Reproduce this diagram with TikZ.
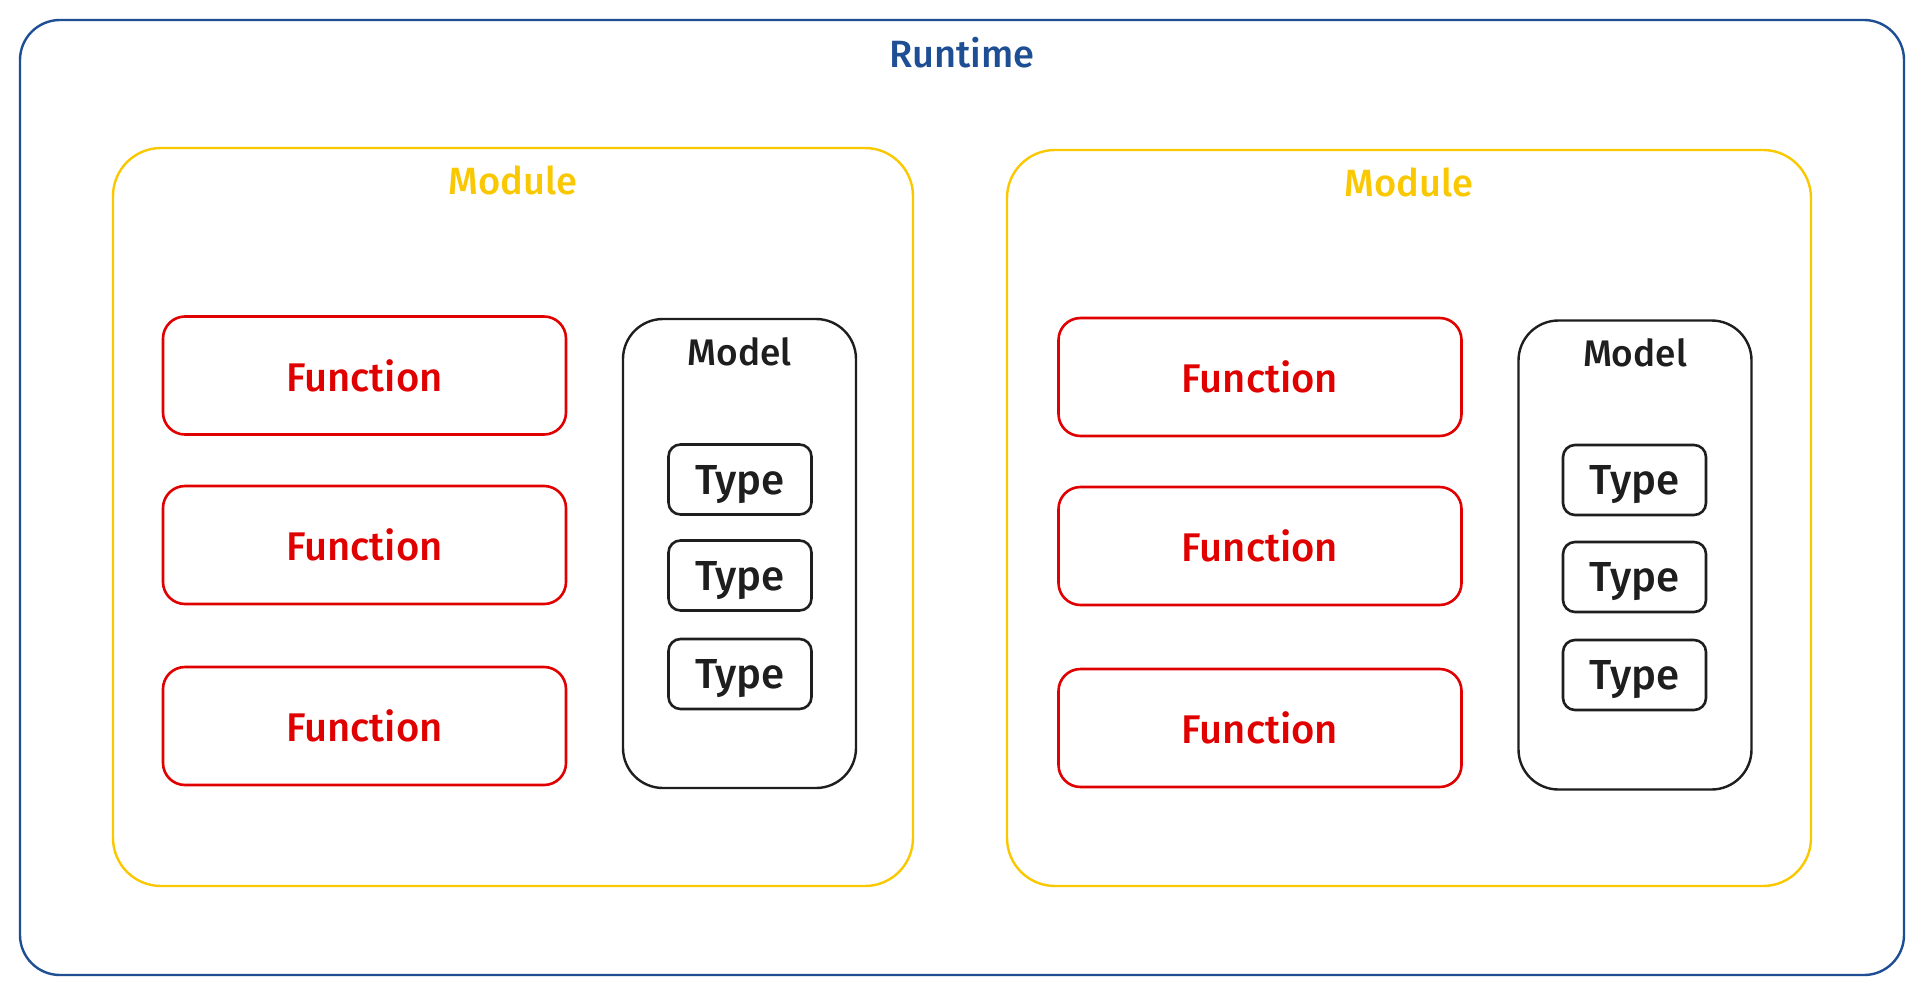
\documentclass[tikz,border=0pt]{standalone}
\usepackage{fontspec}
\setmainfont{Fira Sans}[BoldFont={Fira Sans Medium}]
\usetikzlibrary{positioning}

\definecolor{rtblue}{RGB}{30,78,148}
\definecolor{modyellow}{RGB}{250,200,0}
\definecolor{fnred}{RGB}{224,0,0}
\definecolor{inkblack}{RGB}{30,30,30}

\tikzset{
  rtbox/.style={draw=rtblue, line width=2.4pt, rounded corners=40pt, inner sep=0pt},
  modbox/.style={draw=modyellow, line width=2.4pt, rounded corners=48pt, inner sep=0pt},
  fnbox/.style={draw=fnred, line width=2.6pt, rounded corners=22pt, inner sep=0pt,
    minimum width=403pt, minimum height=118pt, text=fnred, font=\fontsize{40}{46}\selectfont\bfseries},
  mdlbox/.style={draw=inkblack, line width=2.4pt, rounded corners=40pt, inner sep=0pt,
    minimum width=233pt, minimum height=469pt},
  typebox/.style={draw=inkblack, line width=2.6pt, rounded corners=12pt, inner sep=0pt,
    minimum width=143pt, minimum height=70pt, text depth=0pt, text=inkblack,
    font=\fontsize{42}{48}\selectfont\bfseries},
  title/.style={font=\fontsize{38}{44}\selectfont\bfseries, inner sep=0pt}
}

\begin{document}
\begin{tikzpicture}[x=1pt, y=-1pt]

\useasboundingbox[fill=white] (0,0) rectangle (1924,995);

% runtime
\node[rtbox, minimum width=1884pt, minimum height=955pt] (rt) at (962,497.5) {};
\node[title, text=rtblue] (rtlabel) at ([yshift=-34pt]rt.north) {Runtime};

% left module
\node[modbox, minimum width=800pt, minimum height=738pt] (modA) at (513,517) {};
\node[title, text=modyellow] (modAlabel) at ([yshift=-34pt]modA.north) {Module};

\node[fnbox] (fnA1) at (364.5,375.5) {Function};
\node[fnbox] (fnA2) at (364.5,545) {Function};
\node[fnbox] (fnA3) at (364.5,726) {Function};

\node[mdlbox] (mdlA) at (739.5,553.5) {};
\node[title, text=inkblack, font=\fontsize{37}{43}\selectfont\bfseries] (mdlAlabel) at ([yshift=-34pt]mdlA.north) {Model};

\node[typebox] (tyA1) at (740,479.5) {Type};
\node[typebox] (tyA2) at (740,575.5) {Type};
\node[typebox] (tyA3) at (740,674) {Type};

% right module
\node[modbox, minimum width=804pt, minimum height=736pt] (modB) at (1409,518) {};
\node[title, text=modyellow] (modBlabel) at ([yshift=-34pt]modB.north) {Module};

\node[fnbox] (fnB1) at (1260,377) {Function};
\node[fnbox] (fnB2) at (1260,546) {Function};
\node[fnbox] (fnB3) at (1260,728) {Function};

\node[mdlbox] (mdlB) at (1635,555) {};
\node[title, text=inkblack, font=\fontsize{37}{43}\selectfont\bfseries] (mdlBlabel) at ([yshift=-34pt]mdlB.north) {Model};

\node[typebox] (tyB1) at (1634.5,480) {Type};
\node[typebox] (tyB2) at (1634.5,577) {Type};
\node[typebox] (tyB3) at (1634.5,675) {Type};

\end{tikzpicture}
\end{document}
